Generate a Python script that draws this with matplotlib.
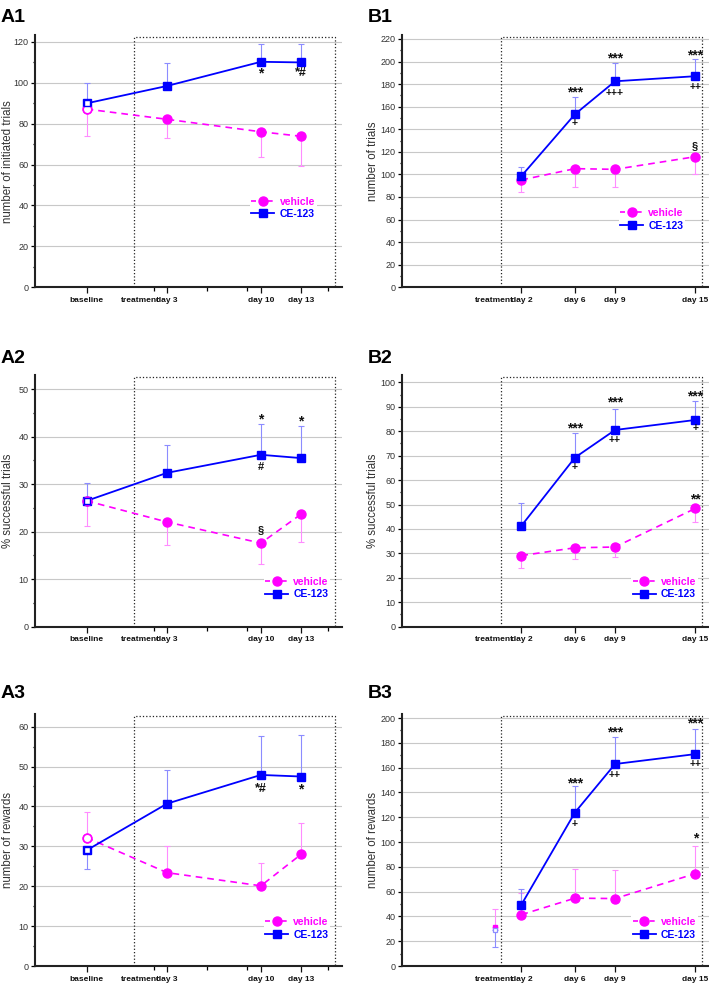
import matplotlib.pyplot as plt
from matplotlib.lines import Line2D

plt.rcParams['font.family'] = ['Liberation Sans', 'DejaVu Sans']

MAG = '#ff00ff'
BLU = '#0000ff'
MAG_ERR = '#ff8cff'
BLU_ERR = '#8c8cff'

# x positions (days); baseline of the A experiment drawn at day -3
a_days = [-3, 3, 10, 13]
a_labels = ['baseline', 'day 3', 'day 10', 'day 13']
a_minor = [2, 6, 9, 15]
b_days = [2, 6, 9, 15]
b_labels = ['day 2', 'day 6', 'day 9', 'day 15']

# A1 - number of initiated trials (means and error bar ends)
a1_veh = [87.1, 82.1, 76.0, 73.8]
a1_veh_end = [74.1, 72.8, 63.5, 59.3]
a1_ce = [89.9, 98.4, 110.2, 109.9]
a1_ce_end = [99.7, 109.4, 118.7, 118.7]
a1_marks = [(10, '*', 104.5), (13, '*#', 104.5)]

# A2 - % successful trials
a2_veh = [26.5, 22.05, 17.6, 23.7]
a2_veh_end = [21.2, 17.1, 13.3, 17.9]
a2_ce = [26.5, 32.4, 36.2, 35.5]
a2_ce_end = [30.2, 38.2, 42.6, 42.2]
a2_marks = [(10, '*', 43.7), (10, '#', 33.6), (13, '*', 43.3), (10, '§', 20.4)]

# A3 - number of rewards
a3_veh = [32.2, 23.4, 20.1, 28.0]
a3_veh_end = [38.7, 30.2, 25.7, 35.9]
a3_ce = [29.0, 40.7, 47.9, 47.5]
a3_ce_end = [24.2, 49.1, 57.7, 58.0]
a3_marks = [(10, '*#', 44.3), (13, '*', 44.3)]

# B1 - number of trials
b1_veh = [95.1, 105.1, 104.5, 115.7]
b1_veh_end = [84.2, 89.1, 88.9, 100.4]
b1_ce = [98.6, 153.3, 182.5, 187.0]
b1_ce_end = [106.9, 168.3, 198.5, 202.0]
b1_marks = [(6, '***', 172.5), (6, '+', 145.8), (9, '***', 202.5), (9, '+++', 172.4),
            (15, '***', 205.5), (15, '++', 177.2), (15, '§', 125.5)]

# B2 - % successful trials
b2_veh = [29.1, 32.3, 32.6, 48.4]
b2_veh_end = [23.9, 27.6, 28.4, 42.7]
b2_ce = [41.3, 69.2, 80.5, 84.6]
b2_ce_end = [50.7, 79.1, 89.2, 92.2]
b2_marks = [(6, '***', 81.2), (6, '+', 65.5), (9, '***', 91.7), (9, '++', 76.4),
            (15, '***', 94.3), (15, '+', 81.2), (15, '**', 52.0)]

# B3 - number of rewards
b3_veh = [41.4, 54.7, 54.4, 74.5]
b3_veh_end = [58.7, 78.3, 77.5, 96.6]
b3_ce = [49.5, 123.8, 162.9, 170.9]
b3_ce_end = [62.4, 145.1, 184.7, 191.1]
b3_marks = [(6, '***', 147.5), (6, '+', 114.4), (9, '***', 188.5), (9, '++', 153.7),
            (15, '***', 196.0), (15, '++', 162.9), (15, '*', 102.5)]
b3_base_day = 0
b3_base_veh, b3_base_veh_end = 31.8, 45.8
b3_base_ce, b3_base_ce_end = 29.1, 15.1


def yerr(means, ends):
    lo = [max(m - e, 0) for m, e in zip(means, ends)]
    hi = [max(e - m, 0) for m, e in zip(means, ends)]
    return [lo, hi]


def mark_size(txt):
    if set(txt) == {'*'}:
        return 10
    if '+' in txt:
        return 7.5
    if '*' in txt:
        return 9
    return 8


def panel(ax, days, veh, veh_end, ce, ce_end, ymax, ystep, ylabel, marks,
          open_first, leg_xy, is_a):
    ax.errorbar(days, veh, yerr=yerr(veh, veh_end), fmt='none', ecolor=MAG_ERR,
                elinewidth=0.8, capsize=2.5, capthick=0.8, zorder=2)
    ax.errorbar(days, ce, yerr=yerr(ce, ce_end), fmt='none', ecolor=BLU_ERR,
                elinewidth=0.8, capsize=2.5, capthick=0.8, zorder=2)
    ax.plot(days, veh, color=MAG, ls=(0, (4, 3)), lw=1.2, marker='o', ms=6.5,
            mec=MAG, mfc=MAG, zorder=3)
    ax.plot(days, ce, color=BLU, ls='-', lw=1.3, marker='s', ms=5.5,
            mec=BLU, mfc=BLU, zorder=4)
    if open_first:
        ax.plot(days[0], veh[0], ls='none', marker='o', ms=6.0, mec=MAG, mfc='white',
                mew=1.0, zorder=5)
        ax.plot(days[0], ce[0], ls='none', marker='s', ms=5.0, mec=BLU, mfc='white',
                mew=1.0, zorder=5)

    for day, txt, y in marks:
        ax.text(day, y, txt, ha='center', va='center', fontsize=mark_size(txt),
                fontweight='bold', color='#111111', zorder=6)

    # treatment period box
    ax.plot([0.5, 0.5, 15.5, 15.5], [0, 0.993, 0.993, 0], transform=ax.get_xaxis_transform(),
            color='#222222', ls=':', lw=0.9, clip_on=False, zorder=1)

    ax.set_ylim(0, ymax)
    ax.set_yticks(range(0, int(ymax) + 1, ystep))
    ax.set_yticks([v + ystep / 2 for v in range(0, int(ymax) - ystep // 2, ystep)], minor=True)
    ax.yaxis.grid(True, color='#c8c8c8', lw=0.8)
    ax.set_axisbelow(True)
    ax.set_ylabel(ylabel, fontsize=8.3, color='#333333')

    if is_a:
        ax.set_xlim(-6.85, 16.05)
        ticks = list(days) + [1]
        labels = a_labels + ['treatment']
        ax.set_xticks(ticks)
        ax.set_xticklabels(labels)
        ax.set_xticks(a_minor, minor=True)
        ax.xaxis.get_major_ticks()[-1].tick1line.set_visible(False)
        ax.yaxis.set_label_coords(-0.067, 0.5)
    else:
        ax.set_xlim(-6.95, 16.0)
        ticks = list(days) + [-0.05]
        labels = b_labels + ['treatment']
        ax.set_xticks(ticks)
        ax.set_xticklabels(labels)
        ax.xaxis.get_major_ticks()[-1].tick1line.set_visible(False)
        ax.yaxis.set_label_coords(-0.073, 0.5)

    for lab in ax.get_xticklabels():
        lab.set_fontweight('bold')
    ax.tick_params(axis='x', which='major', length=4.5, width=0.9, pad=2.5, labelsize=6,
                   colors='#111111')
    ax.tick_params(axis='x', which='minor', length=3, width=0.9)
    ax.tick_params(axis='y', which='major', length=3, width=0.9, pad=1.5, labelsize=6.5,
                   labelcolor='#333333')
    ax.tick_params(axis='y', which='minor', length=1.8, width=0.9)

    for s in ['top', 'right']:
        ax.spines[s].set_visible(False)
    for s in ['left', 'bottom']:
        ax.spines[s].set_linewidth(1.5)
        ax.spines[s].set_color('#222222')

    handles = [
        Line2D([], [], color=MAG, ls=(0, (3, 2)), lw=1.2, marker='o', ms=6.5),
        Line2D([], [], color=BLU, ls='-', lw=1.3, marker='s', ms=5.5),
    ]
    leg = ax.legend(handles, ['vehicle', 'CE-123'], loc='center left', bbox_to_anchor=leg_xy,
                    frameon=True, fancybox=False, facecolor='white', edgecolor='none',
                    framealpha=1, borderpad=0.15, borderaxespad=0, handlelength=2.2,
                    handletextpad=0.5, labelspacing=0.25,
                    prop={'size': 7.5, 'weight': 'bold'}, labelcolor=[MAG, BLU])
    leg.set_zorder(7)


fig = plt.figure(figsize=(7.09, 9.86), dpi=100)
W, H = 709.0, 986.0

rows = [(35, 287.3), (375, 626.7), (714.3, 966)]
a_left, b_left, ax_w = 35, 401.7, 307


def make_ax(left, top, bottom):
    return fig.add_axes([left / W, 1 - bottom / H, ax_w / W, (bottom - top) / H])


axA1 = make_ax(a_left, *rows[0])
axA2 = make_ax(a_left, *rows[1])
axA3 = make_ax(a_left, *rows[2])
axB1 = make_ax(b_left, *rows[0])
axB2 = make_ax(b_left, *rows[1])
axB3 = make_ax(b_left, *rows[2])

panel(axA1, a_days, a1_veh, a1_veh_end, a1_ce, a1_ce_end, 123.3, 20,
      'number of initiated trials', a1_marks, True, (0.70, 0.315), True)
panel(axA2, a_days, a2_veh, a2_veh_end, a2_ce, a2_ce_end, 53, 10,
      '% successful trials', a2_marks, True, (0.745, 0.153), True)
panel(axA3, a_days, a3_veh, a3_veh_end, a3_ce, a3_ce_end, 63.1, 10,
      'number of rewards', a3_marks, True, (0.745, 0.150), True)
panel(axB1, b_days, b1_veh, b1_veh_end, b1_ce, b1_ce_end, 223.5, 20,
      'number of trials', b1_marks, False, (0.707, 0.269), False)
panel(axB2, b_days, b2_veh, b2_veh_end, b2_ce, b2_ce_end, 103, 10,
      '% successful trials', b2_marks, False, (0.748, 0.153), False)
panel(axB3, b_days, b3_veh, b3_veh_end, b3_ce, b3_ce_end, 203, 20,
      'number of rewards', b3_marks, False, (0.748, 0.150), False)

# small baseline points in B3
axB3.errorbar([b3_base_day], [b3_base_veh], yerr=[[0], [b3_base_veh_end - b3_base_veh]],
              fmt='none', ecolor=MAG_ERR, elinewidth=0.8, capsize=2.5, capthick=0.8, zorder=2)
axB3.errorbar([b3_base_day], [b3_base_ce], yerr=[[b3_base_ce - b3_base_ce_end], [0]],
              fmt='none', ecolor=BLU_ERR, elinewidth=0.8, capsize=2.5, capthick=0.8, zorder=2)
axB3.plot([b3_base_day], [b3_base_veh], ls='none', marker='s', ms=3.5, mec=MAG, mfc=MAG, zorder=3)
axB3.plot([b3_base_day], [b3_base_ce], ls='none', marker='s', ms=3.5, mec=BLU_ERR, mfc='white',
          mew=0.9, zorder=4)

for txt, x, y in [('A1', 1, 22), ('A2', 1, 363), ('A3', 1, 698),
                  ('B1', 368, 22), ('B2', 368, 363), ('B3', 368, 698)]:
    fig.text(x / W, 1 - y / H, txt, fontsize=14, fontweight='bold', va='baseline', ha='left')

fig.savefig('out.png', dpi=100)
